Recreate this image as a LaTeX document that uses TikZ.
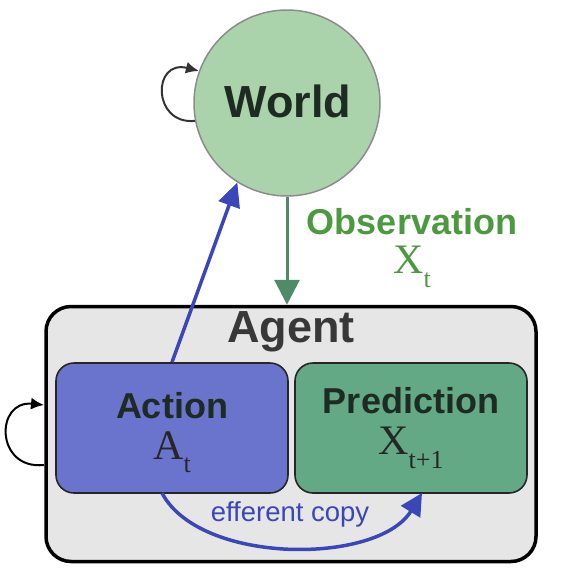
\documentclass[tikz,border=0pt]{standalone}
\usepackage{fontspec}
\setmainfont{Liberation Serif}
\setsansfont{Liberation Sans}
\usetikzlibrary{arrows.meta}
\definecolor{worldfill}{HTML}{ABD3AB}
\definecolor{agentfill}{HTML}{E6E6E6}
\definecolor{actionfill}{HTML}{6A74CC}
\definecolor{predfill}{HTML}{63A985}
\definecolor{effblue}{HTML}{3B47B8}
\definecolor{obsgreen}{HTML}{4C9A3F}
\definecolor{obsarrow}{HTML}{4E8B66}
\definecolor{darktext}{HTML}{1E2B22}
\newcommand{\lowsub}[1]{\raisebox{-0.32em}{\fontsize{26}{28}\selectfont #1}}
\begin{document}
\begin{tikzpicture}[x=1pt,y=-1pt,line width=1pt,
  innerbox/.style={draw=black!85,line width=1.6pt,rounded corners=18pt,minimum width=232pt,minimum height=130pt},
  bigword/.style={font=\sffamily\bfseries\fontsize{45}{50}\selectfont},
  midword/.style={font=\sffamily\bfseries\fontsize{36}{40}\selectfont},
  symword/.style={font=\fontsize{42}{46}\selectfont},
  selfloop/.style={-{Latex[length=13pt,width=12pt]},line width=2pt}]
\useasboundingbox (0,0) rectangle (569,574);
% world and agent
\node[circle,minimum size=186pt,fill=worldfill,draw=black!45,line width=1.5pt] (world) at (287,103) {};
\node[bigword,text=darktext] (worldlbl) at (288,101) {World};
\node[rounded corners=25pt,draw,line width=3.5pt,fill=agentfill,minimum width=490pt,minimum height=255pt] (agent) at (291,434) {};
\node[bigword,text=black!78] (agentlbl) at (291,332) {Agent};
\node[innerbox,fill=actionfill] (action) at (172,428) {};
\node[innerbox,fill=predfill] (pred) at (411,428) {};
\node[midword,text=darktext] (actlbl) at (172,406) {Action};
\node[symword,text=black!85] (actsym) at (172,452) {A\lowsub{t}};
\node[midword,text=darktext] (predlbl) at (411,401) {Prediction};
\node[symword,text=black!85] (predsym) at (411,448) {X\lowsub{t+1}};
% observation
\draw[obsarrow,line width=3pt,-{Triangle[length=25pt,width=25pt]}] (world.south) -- (world.south |- agent.north);
\node[midword,text=obsgreen] (obslbl) at (412,222) {Observation};
\node[symword,text=obsgreen] (obssym) at (412,267) {X\lowsub{t}};
% action to world
\draw[effblue,line width=3.5pt,-{Triangle[length=24pt,width=22pt]}] (action.north) -- (world.238);
% efferent copy
\coordinate (effa) at (162,493); \coordinate (effb) at (422,493);
\draw[effblue,line width=3.5pt,-{Triangle[length=22pt,width=22pt]}] (effa) .. controls (200,565) and (378,565) .. (effb);
\node[font=\sffamily\fontsize{27.5}{30}\selectfont,text=effblue] (efflbl) at (290,514) {efferent copy};
% self loops
\draw[selfloop,black!80] (world.191) .. controls (152,125) and (152,59) .. (world.160);
\coordinate (loopa) at (44,465); \coordinate (loopb) at (44,405);
\draw[selfloop] (loopa) .. controls (-5,470) and (-5,400) .. (loopb);
\end{tikzpicture}
\end{document}
